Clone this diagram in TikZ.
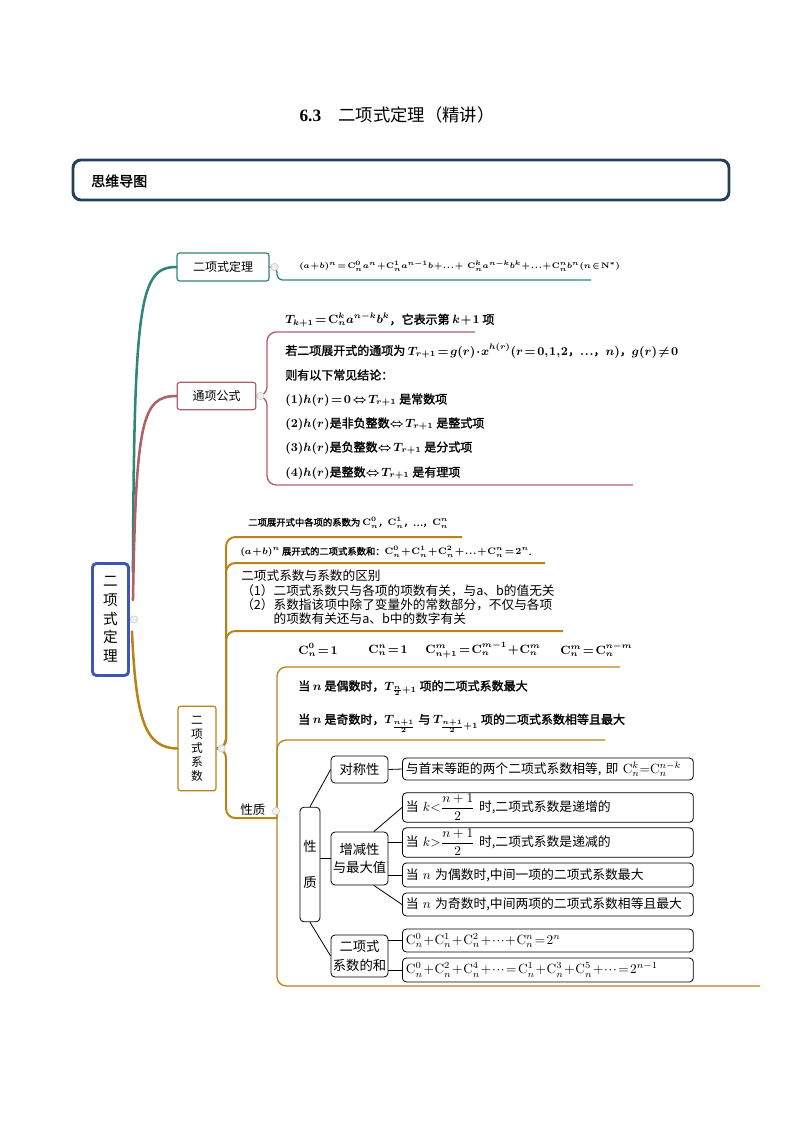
\documentclass[tikz,border=0pt]{standalone}
\usepackage[no-math]{fontspec}
\setmainfont{Noto Sans CJK SC}[AutoFakeBold=1.6]
\newfontfamily\latinserif{Liberation Serif}
\usetikzlibrary{calc}

\definecolor{tealbr}{HTML}{2F8577}
\definecolor{rosebr}{HTML}{B0606A}
\definecolor{goldbr}{HTML}{B8841A}
\definecolor{rootbl}{HTML}{3F56B5}
\definecolor{bandnv}{HTML}{24405E}

\newcommand{\comb}[2]{\mathrm{C}_{#1}^{#2}}
\newcommand{\fsz}[2]{\fontsize{#1}{#2}\selectfont}
\newcommand{\tightmath}{\thinmuskip=1mu\medmuskip=1mu\thickmuskip=2mu}

\tikzset{
  topic/.style={draw, rounded corners=2pt, line width=0.9pt, inner sep=0pt, align=center, font=\fsz{9}{11}},
  leaf/.style={anchor=west, inner sep=0pt, font=\fsz{9}{11}\bfseries\boldmath\tightmath},
  small leaf/.style={leaf, font=\fsz{7}{9}\bfseries\boldmath\tightmath},
  knob/.style={circle, draw=gray!45, fill=gray!12, line width=0.4pt, inner sep=0pt, minimum size=5.5pt},
  cell/.style={draw, rounded corners=3pt, line width=0.6pt, inner sep=1pt, align=center, font=\fsz{10}{14}},
  rcell/.style={cell, anchor=west, text width=213pt, inner xsep=2.6pt, align=left, font=\fsz{9.6}{12}},
  branch/.style={line width=1.9pt, line cap=round},
  twig/.style={line width=1pt, rounded corners=7pt},
}

\begin{document}
\begin{tikzpicture}[x=0.75pt,y=-0.75pt]
  \useasboundingbox (0,0) rectangle (794,1123);

  % heading
  \node[font=\fsz{13}{15}] (title) at (397,115) {{\latinserif\bfseries 6.3}\quad 二项式定理（精讲）};
  \node[draw=bandnv, line width=2.2pt, rounded corners=6pt, minimum width=492pt, minimum height=30pt] (band) at (401,180) {};
  \node[anchor=west, font=\fsz{10.5}{12}\bfseries] (bandtxt) at ($(band.west)+(15,1)$) {思维导图};

  % root and first level
  \node[topic, draw=rootbl, line width=2.2pt, rounded corners=3pt, minimum width=27pt, minimum height=84pt, font=\fsz{11}{14}] (root) at (110.5,619.5) {二\\项\\式\\定\\理};
  \node[topic, draw=tealbr, minimum width=69pt, minimum height=21pt] (thm) at (223,267) {二项式定理};
  \node[topic, draw=rosebr, minimum width=59pt, minimum height=20.5pt] (gen) at (216.5,396) {通项公式};
  \node[topic, draw=goldbr, minimum width=28.5pt, minimum height=63.5pt, font=\fsz{8.8}{10.5}] (coef) at (197,748.5) {二\\项\\式\\系\\数};

  \draw[tealbr, branch] ($(root.north east)+(3,10)$) .. controls (134,300) and (140,267) .. (thm.west);
  \draw[rosebr, branch] ($(root.north east)+(3,38)$) .. controls (136,420) and (142,396) .. (gen.west);
  \draw[goldbr, branch] ($(root.east)+(2,12)$) .. controls (136,720) and (145,748) .. (coef.west);

  % binomial theorem
  \node[small leaf, font=\fsz{5.9}{7}\bfseries\boldmath\tightmath] (thmf) at (299,266) {$(a+b)^n=\comb n0a^n+\comb n1a^{n-1}b+\dots+\ \ \comb nka^{n-k}b^k+\dots+\comb nnb^n(n\in\mathrm{N}^*)$};
  \coordinate (thmu) at (591,280);
  \draw[tealbr, line width=1pt, rounded corners=4pt] (thm.east) -- (277,267) |- (thmu);

  % general term
  \node[leaf] (tk) at (285,320) {$T_{k+1}=\comb nka^{n-k}b^k$，它表示第 $k+1$ 项};
  \node[leaf] (g1) at (285,351) {若二项展开式的通项为 $T_{r+1}=g(r)\cdot x^{h(r)}(r=0,1,2$，$\dots$，$n)$，$g(r)\neq0$};
  \node[leaf] (g2) at (285,375) {则有以下常见结论：};
  \node[leaf] (g3) at (285,400) {$(1)h(r)=0\Leftrightarrow T_{r+1}$ 是常数项};
  \node[leaf] (g4) at (285,424) {$(2)h(r)$是非负整数$\Leftrightarrow T_{r+1}$ 是整式项};
  \node[leaf] (g5) at (285,448) {$(3)h(r)$是负整数$\Leftrightarrow T_{r+1}$ 是分式项};
  \node[leaf] (g6) at (285,473) {$(4)h(r)$是整数$\Leftrightarrow T_{r+1}$ 是有理项};
  \coordinate (tku) at (475,332);
  \coordinate (g6u) at (633,485);
  \draw[rosebr, twig] (gen.east) -- (267,396) |- (tku);
  \draw[rosebr, twig] (gen.east) -- (267,396) |- (g6u);

  % binomial coefficients
  \node[small leaf] (ca) at (248,523) {二项展开式中各项的系数为 $\comb n0$，$\comb n1$，…，$\comb nn$};
  \node[small leaf] (cb) at (240,552) {$(a+b)^n$ 展开式的二项式系数和：$\comb n0+\comb n1+\comb n2+\dots+\comb nn=2^n$.};
  \node[anchor=west, inner sep=0pt, align=left, font=\fsz{9.5}{10.7}] (cc) at (241,597.5) {二项式系数与系数的区别\\（1）二项式系数只与各项的项数有关，与a、b的值无关\\（2）系数指该项中除了变量外的常数部分，不仅与各项\\\phantom{（2）}的项数有关还与a、b中的数字有关};
  \node[anchor=west, inner sep=0pt, font=\fsz{9.4}{11}] (prop) at (240,810) {性质};
  \coordinate (cau) at (462,537);
  \coordinate (cbu) at (545,563);
  \coordinate (ccu) at (563,631);
  \coordinate (pk) at (277,818);
  \foreach \e in {cau,cbu,ccu,pk}
    \draw[goldbr, twig, line width=1.5pt] (coef.east) -- (226,748.5) |- (\e);

  % properties
  \node[leaf] (p1) at (298,650) {$\comb n0=1$};
  \node[leaf] (p2) at (368,650) {$\comb nn=1$};
  \node[leaf] (p3) at (425,650) {$\comb{n+1}m=\comb n{m-1}+\comb nm$};
  \node[leaf] (p4) at (560,650) {$\comb nm=\comb n{n-m}$};
  \node[leaf] (ev) at (298,688) {当 $n$ 是偶数时，$T_{\frac n2+1}$ 项的二项式系数最大};
  \node[leaf] (od) at (298,723) {当 $n$ 是奇数时，$T_{\frac{n+1}2}$ 与 $T_{\frac{n+1}2+1}$ 项的二项式系数相等且最大};
  \coordinate (p1u) at (620,667);
  \coordinate (odu) at (605,740);
  \coordinate (treeu) at (760,986);
  \foreach \e in {p1u,odu,treeu}
    \draw[goldbr, twig] (pk) |- (\e);

  % tree of properties
  \node[cell, minimum width=15pt, minimum height=86pt, font=\fsz{10}{27}] (xz) at (310,864.5) {性\\质};
  \node[cell, minimum width=42.75pt, minimum height=20.25pt] (dc) at (359.5,769.5) {对称性};
  \node[cell, minimum width=42.75pt, minimum height=39.75pt] (zj) at (359.5,858.5) {增减性\\与最大值};
  \node[cell, minimum width=42.75pt, minimum height=31.5pt] (he) at (359.5,956) {二项式\\系数的和};

  \node[rcell, minimum height=16.5pt] (r1) at (402,769) {与首末等距的两个二项式系数相等, 即 $\comb nk{=}\comb n{n-k}$};
  \node[rcell, minimum height=21.75pt] (r2) at (402,807.5) {当 $k{<}\displaystyle\frac{n+1}{2}$ 时,二项式系数是递增的};
  \node[rcell, minimum height=21.75pt] (r3) at (402,842.5) {当 $k{>}\displaystyle\frac{n+1}{2}$ 时,二项式系数是递减的};
  \node[rcell, minimum height=18pt] (r4) at (402,875) {当 $n$ 为偶数时,中间一项的二项式系数最大};
  \node[rcell, minimum height=17.25pt] (r5) at (402,904.5) {当 $n$ 为奇数时,中间两项的二项式系数相等且最大};
  \node[rcell, minimum height=17.25pt, font=\fsz{9.6}{12}\tightmath] (r6) at (402,940.5) {$\comb n0+\comb n1+\comb n2+\cdots+\comb nn=2^n$};
  \node[rcell, minimum height=18pt, font=\fsz{9.6}{12}\tightmath] (r7) at (402,970) {$\comb n0+\comb n2+\comb n4+\cdots=\comb n1+\comb n3+\comb n5+\cdots=2^{n-1}$};

  \draw[line width=0.6pt] (xz.north) -- (dc.west);
  \draw[line width=0.6pt] (zj.west -| xz.east) -- (zj.west);
  \draw[line width=0.6pt] (xz.south) -- (he.west);
  \draw[line width=0.6pt] (dc.east) -- (r1.west);
  \draw[line width=0.6pt] (zj.62) -- (r2.west);
  \draw[line width=0.6pt] (r3.west -| zj.east) -- (r3.west);
  \draw[line width=0.6pt] (r4.west -| zj.east) -- (r4.west);
  \draw[line width=0.6pt] (zj.-62) -- (r5.west);
  \draw[line width=0.6pt] (r6.west -| he.east) -- (r6.west);
  \draw[line width=0.6pt] (r7.west -| he.east) -- (r7.west);

  % collapse knobs
  \node[knob] (k0) at ($(root.east)+(4,0)$) {};
  \node[knob] (k1) at ($(thm.east)+(5,0)$) {};
  \node[knob] (k2) at ($(gen.east)+(4,0)$) {};
  \node[knob] (k3) at ($(coef.east)+(5,0)$) {};
  \node[knob] (k4) at (276,811) {};
\end{tikzpicture}
\end{document}
